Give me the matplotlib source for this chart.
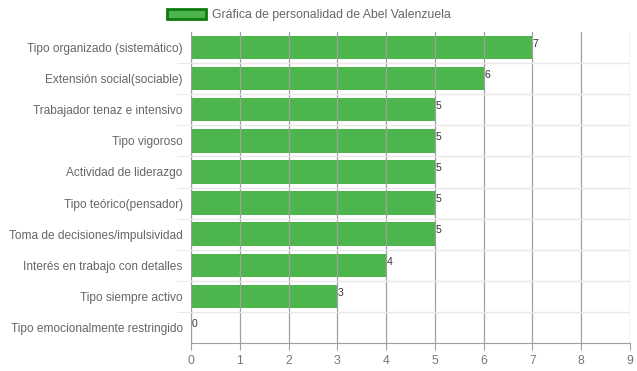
import matplotlib.pyplot as plt
from matplotlib.patches import Patch

plt.rcParams['font.family'] = ['Liberation Sans', 'DejaVu Sans']

categories = [
    "Tipo organizado (sistemático)",
    "Extensión social(sociable)",
    "Trabajador tenaz e intensivo",
    "Tipo vigoroso",
    "Actividad de liderazgo",
    "Tipo teórico(pensador)",
    "Toma de decisiones/impulsividad",
    "Interés en trabajo con detalles",
    "Tipo siempre activo",
    "Tipo emocionalmente restringido",
]
values = [7, 6, 5, 5, 5, 5, 5, 4, 3, 0]
series_name = "Gráfica de personalidad de Abel Valenzuela"

fig = plt.figure(figsize=(6.37, 3.71), dpi=100)
ax = fig.add_axes([0.2998, 0.0755, 0.6892, 0.8382])

pos = list(range(len(categories)))
ax.barh(pos, values, height=0.75, color='#4cb64c', zorder=1)
for p, v in zip(pos, values):
    ax.text(v + 0.01, p - 0.28, str(v), fontsize=7.5, color='#333333',
            va='top', ha='left', zorder=3)

ax.set_xlim(0, 9)
ax.set_ylim(len(categories) - 0.5, -0.5)
ax.set_xticks(range(10))
ax.set_yticks(pos)
ax.set_yticklabels(categories)
ax.set_yticks([p + 0.5 for p in pos[:-1]], minor=True)

ax.grid(axis='x', color='#a0a0a0', linewidth=0.9, zorder=2)
ax.grid(axis='y', which='minor', color='#e8e8e8', linewidth=1.0)
ax.set_axisbelow(False)
for line in ax.get_ygridlines():
    line.set_visible(False)

ax.tick_params(axis='x', colors='#a0a0a0', length=5, labelcolor='#777777', labelsize=8.8)
ax.tick_params(axis='y', which='major', length=0, pad=6, labelcolor='#666666', labelsize=8.6)
ax.tick_params(axis='y', which='minor', colors='#e8e8e8', length=10)

for s in ['top', 'right']:
    ax.spines[s].set_visible(False)
ax.spines['bottom'].set_color('#a0a0a0')
ax.spines['left'].set_color('#a0a0a0')

handle = Patch(facecolor='#4cb64c', edgecolor='#0f7a0f', linewidth=2)
fig.legend([handle], [series_name], loc='upper center', bbox_to_anchor=(0.485, 1.005),
           frameon=False, fontsize=8.8, handlelength=3.2, handleheight=0.9,
           labelcolor='#666666', handletextpad=0.5)

fig.savefig('out.png', dpi=100)
